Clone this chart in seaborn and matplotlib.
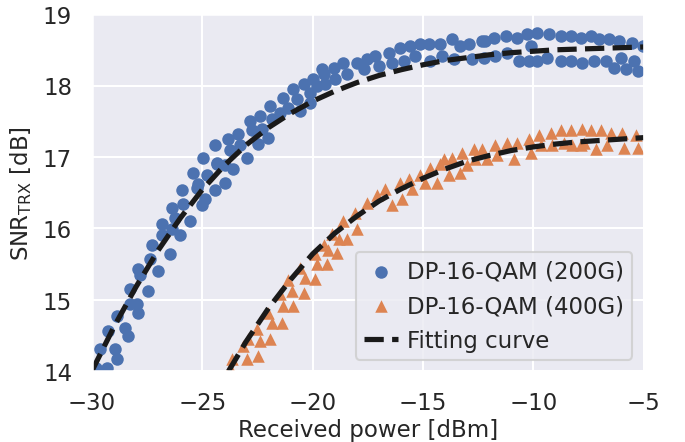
import matplotlib
matplotlib.use('Agg')
import matplotlib.pyplot as plt
import seaborn as sns

# measured points, DP-16-QAM (200G)
p200 = [-29.79, -29.33, -29.64, -28.96, -28.88, -29.26, -28.35, -28.88, -28.5, -28.28,
        -27.9, -27.97, -28.28, -27.45, -27.82, -27.9, -26.99, -27.37, -26.46, -27.29,
        -26.84, -26.0, -26.38, -26.84, -26.23, -25.55, -26.38, -25.86, -25.93, -25.03,
        -25.25, -24.87, -25.4, -25.18, -24.8, -24.95, -24.42, -24.34,
        -24.42, -24.34, -23.97, -23.97, -23.82, -23.74, -23.59, -23.36, -23.29, -22.98,
        -22.83, -22.76, -22.46, -22.39, -22.31, -21.92, -22.0, -21.85, -21.47, -21.32,
        -21.1, -20.87, -20.71, -20.56, -20.41, -20.11, -19.96, -20.11, -19.58, -19.5,
        -19.8,
        -19.43, -19.05, -18.97, -18.6, -18.45, -17.99, -17.69, -17.54, -17.16, -17.01,
        -16.56, -16.4, -16.03, -15.88, -15.57, -15.35, -15.12, -14.74, -14.66, -14.21,
        -14.13, -13.68, -13.6, -13.3, -12.92, -12.77, -12.32, -12.24,
        -12.17, -11.8, -11.72, -11.26, -11.18, -10.73, -10.66, -10.28, -10.2, -9.82,
        -9.82, -10.12, -9.37, -9.29, -8.76, -8.76, -8.31, -8.31, -7.85, -7.78,
        -7.4, -7.24, -7.02, -6.72, -6.57, -6.34, -6.12, -6.04, -5.81, -5.51,
        -5.43, -5.28, -5.05]
snr200 = [14.05, 14.05, 14.31, 14.31, 14.17, 14.56, 14.49, 14.77, 14.61, 14.94,
          14.82, 14.94, 15.15, 15.12, 15.34, 15.43, 15.40, 15.57, 15.64, 15.76,
          15.90, 15.90, 15.99, 16.06, 16.15, 16.10, 16.28, 16.34, 16.53, 16.32,
          16.57, 16.41, 16.78, 16.62, 16.74, 16.99, 16.53, 16.90,
          17.16, 16.92, 16.64, 16.88, 17.25, 17.09, 16.83, 17.32, 17.16, 16.99,
          17.51, 17.37, 17.18, 17.58, 17.39, 17.72, 17.27, 17.53, 17.62, 17.83,
          17.69, 17.95, 17.81, 17.65, 18.02, 17.90, 18.09, 17.76, 18.23, 18.16,
          17.99,
          18.02, 18.25, 18.09, 18.32, 18.16, 18.32, 18.23, 18.37, 18.42, 18.28,
          18.46, 18.32, 18.53, 18.35, 18.56, 18.42, 18.58, 18.58, 18.35, 18.58,
          18.42, 18.65, 18.37, 18.56, 18.58, 18.37, 18.63, 18.39,
          18.63, 18.67, 18.42, 18.70, 18.46, 18.67, 18.35, 18.72, 18.35, 18.74,
          18.35, 18.56, 18.39, 18.72, 18.70, 18.35, 18.70, 18.35, 18.67, 18.32,
          18.70, 18.35, 18.65, 18.35, 18.65, 18.25, 18.63, 18.39, 18.23, 18.60,
          18.35, 18.21, 18.56]

# measured points, DP-16-QAM (400G)
p400 = [-23.66, -23.74, -22.98, -22.46, -23.14, -22.91, -22.53, -22.38, -21.92, -22.0,
        -21.85, -21.4, -21.47, -21.32, -20.87, -21.1, -20.94, -20.41, -20.56, -20.33,
        -19.88, -19.88, -19.8, -19.35, -19.5, -19.28, -18.9, -19.13, -18.82, -18.6,
        -18.45, -18.07, -17.99,
        -17.54, -17.09, -16.4, -15.95, -16.72, -16.03, -15.5, -15.65, -15.12, -14.89,
        -14.66, -14.36, -14.21, -13.83, -14.06, -13.68, -13.3, -13.23, -13.0, -12.7,
        -12.62, -12.32, -12.09, -11.72, -11.64, -11.18, -10.88, -10.73, -10.2, -10.12,
        -9.75, -9.67, -9.22, -9.14, -8.76, -8.61, -8.31, -8.23, -7.78, -7.7,
        -7.17, -7.4, -6.94, -6.64, -6.49, -5.96, -5.89, -5.36, -5.28, -7.85]
snr400 = [14.17, 14.05, 14.17, 14.21, 14.35, 14.45, 14.59, 14.42, 14.45, 14.82,
          14.68, 14.68, 15.08, 14.91, 14.91, 15.27, 15.12, 15.10, 15.45, 15.31,
          15.29, 15.64, 15.50, 15.50, 15.76, 15.69, 15.66, 15.92, 15.85, 16.10,
          15.85, 16.22, 15.99,
          16.36, 16.46, 16.32, 16.41, 16.55, 16.64, 16.55, 16.69, 16.74, 16.64,
          16.85, 16.64, 16.90, 16.74, 16.97, 16.99, 16.78, 17.06, 16.88, 17.11,
          16.97, 17.11, 16.97, 17.16, 17.02, 17.20, 16.97, 17.20, 17.25, 17.06,
          17.30, 17.16, 17.34, 17.16, 17.37, 17.20, 17.37, 17.16, 17.39, 17.20,
          17.11, 17.37, 17.37, 17.16, 17.34, 17.34, 17.13, 17.30, 17.13, 17.16]

# fitting curves
fit200_x = [-30, -29, -28, -27, -26, -25, -24, -23, -22, -21, -20, -19, -18,
            -17, -16, -15, -14, -13, -12, -11, -10, -9, -8, -7, -6, -5]
fit200_y = [14.00, 14.62, 15.18, 15.69, 16.14, 16.54, 16.88, 17.17, 17.41, 17.61,
            17.78, 17.92, 18.04, 18.14, 18.22, 18.29, 18.35, 18.39, 18.43, 18.46,
            18.48, 18.50, 18.51, 18.52, 18.53, 18.54]
fit400_x = [-25, -24, -23, -22, -21, -20, -19, -18, -17, -16, -15, -14, -13,
            -12, -11, -10, -9, -8, -7, -6, -5]
fit400_y = [13.32, 13.90, 14.42, 14.88, 15.28, 15.64, 15.93, 16.17, 16.38, 16.55,
            16.70, 16.83, 16.94, 17.02, 17.09, 17.14, 17.18, 17.21, 17.23, 17.25,
            17.27]

sns.set_theme(style='darkgrid', rc={'axes.labelsize': 11})
pal = sns.color_palette('deep')

fig, ax = plt.subplots(figsize=(4.57, 2.953), dpi=150)
fig.subplots_adjust(left=0.134, right=0.939, top=0.966, bottom=0.160)

sns.scatterplot(x=p200, y=snr200, marker='o', color=pal[0], s=36, linewidth=0,
                label='DP-16-QAM (200G)', ax=ax)
sns.scatterplot(x=p400, y=snr400, marker='^', color=pal[1], s=36, linewidth=0,
                label='DP-16-QAM (400G)', ax=ax)
sns.lineplot(x=fit200_x, y=fit200_y, color='k', linestyle='--', linewidth=2.5,
             label='Fitting curve', ax=ax)
sns.lineplot(x=fit400_x, y=fit400_y, color='k', linestyle='--', linewidth=2.5,
             label='_nolegend_', ax=ax)

ax.set_xlim(-30, -5)
ax.set_ylim(14, 19)
ax.set_xlabel('Received power [dBm]', labelpad=2)
ax.set_ylabel(r'SNR$_\mathrm{TRX}$ [dB]')
ax.legend(loc='lower right', handlelength=1.5, handletextpad=0.4, borderpad=0.35)

plt.savefig('out.png', dpi=150)
